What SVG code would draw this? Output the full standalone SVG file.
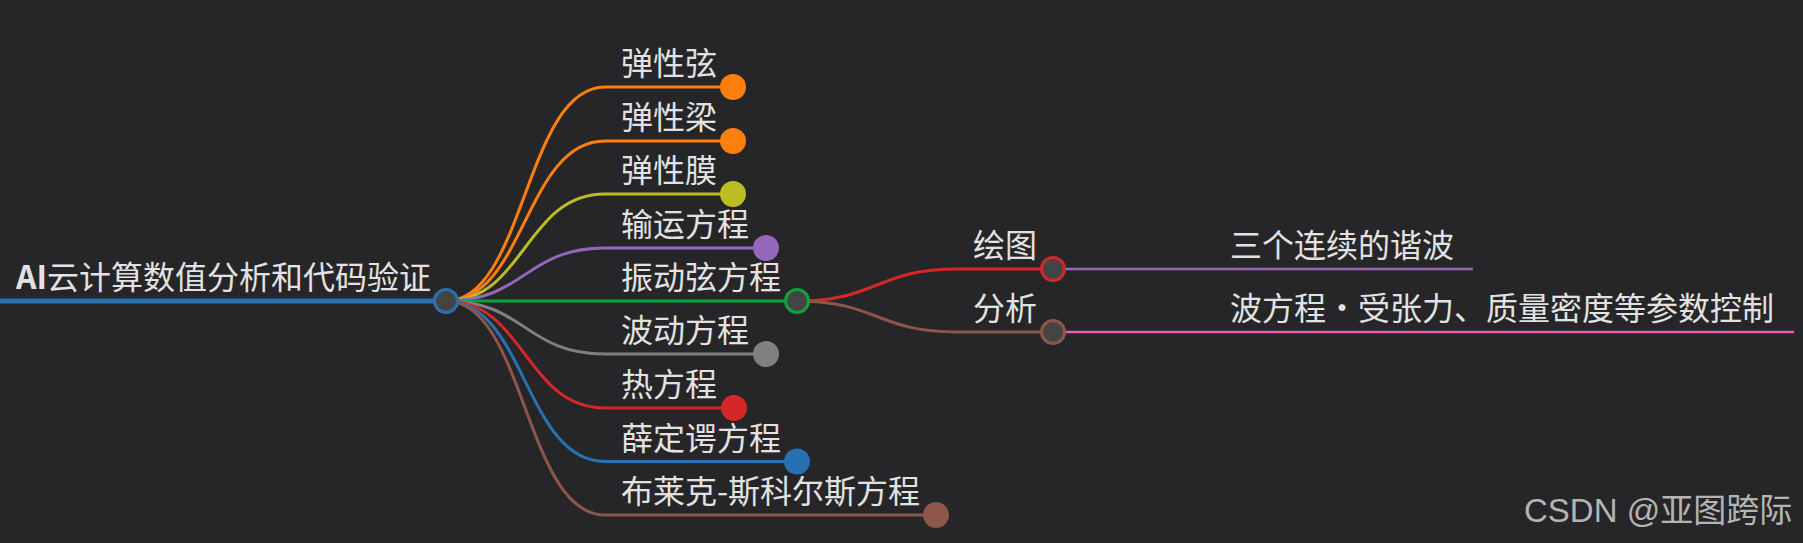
<svg xmlns="http://www.w3.org/2000/svg" width="1803" height="543" viewBox="0 0 1803 543">
<style>
text{font-family:"Noto Sans CJK SC","Noto Sans",sans-serif;font-size:32px;fill:#e2e2e2}
.l{fill:none;stroke-width:3;stroke-linecap:round}
.h{fill:#444;stroke-width:3}
.wm{font-family:"Liberation Sans","Noto Sans CJK SC",sans-serif;font-size:33px;fill:#b4b4b4}
</style>
<rect width="1803" height="543" fill="#262628"/>
<g id="connectors">
<line x1="0" y1="301" x2="440" y2="301" stroke="#2871b0" stroke-width="5"/>
<path class="l" stroke="#ff7f0e" d="M446 301C525 301 525 87 605 87H733"/>
<path class="l" stroke="#ff7f0e" d="M446 301C525 301 525 141 605 141H733"/>
<path class="l" stroke="#bcbd22" d="M446 301C525 301 525 194 605 194H733"/>
<path class="l" stroke="#9467bd" d="M446 301C525 301 525 248 605 248H766"/>
<path class="l" stroke="#0aa537" d="M446 301H797"/>
<path class="l" stroke="#808080" d="M446 301C525 301 525 354 605 354H766"/>
<path class="l" stroke="#d62728" d="M446 301C525 301 525 408 605 408H734"/>
<path class="l" stroke="#2871b0" d="M446 301C525 301 525 461.5 605 461.5H797"/>
<path class="l" stroke="#8c564b" d="M446 301C525 301 525 515 605 515H936"/>
<path class="l" stroke="#d62728" d="M797 301C877 301 877 269 957 269H1053"/>
<path class="l" stroke="#8c564b" d="M797 301C877 301 877 332 957 332H1053"/>
<path fill="none" stroke="#9467bd" stroke-width="2.5" d="M1053 269H1473"/>
<path fill="none" stroke="#e35fb5" stroke-width="2.5" d="M1053 332H1794"/>
</g>
<g id="root">
<text x="16" y="289"><tspan font-weight="bold">AI</tspan>云计算数值分析和代码验证</text>
<circle class="h" cx="446" cy="301" r="11.5" stroke="#2871b0"/>
</g>
<g id="n1"><text x="621" y="75">弹性弦</text><circle cx="733" cy="87" r="13" fill="#ff7f0e"/></g>
<g id="n2"><text x="621" y="129">弹性梁</text><circle cx="733" cy="141" r="13" fill="#ff7f0e"/></g>
<g id="n3"><text x="621" y="182">弹性膜</text><circle cx="733" cy="194" r="13" fill="#bcbd22"/></g>
<g id="n4"><text x="621" y="236">输运方程</text><circle cx="766" cy="248" r="13" fill="#9467bd"/></g>
<g id="n5"><text x="621" y="289">振动弦方程</text><circle class="h" cx="797" cy="301" r="11.5" stroke="#0aa537"/></g>
<g id="n6"><text x="621" y="342">波动方程</text><circle cx="766" cy="354" r="13" fill="#808080"/></g>
<g id="n7"><text x="621" y="396">热方程</text><circle cx="734" cy="408" r="13" fill="#d62728"/></g>
<g id="n8"><text x="621" y="449.5">薛定谔方程</text><circle cx="797" cy="461.5" r="13" fill="#2871b0"/></g>
<g id="n9"><text x="621" y="503">布莱克-斯科尔斯方程</text><circle cx="936" cy="515" r="13" fill="#8c564b"/></g>
<g id="n10"><text x="973" y="256.5">绘图</text><circle class="h" cx="1053" cy="269" r="11.5" stroke="#d62728"/></g>
<g id="n11"><text x="973" y="319.5">分析</text><circle class="h" cx="1053" cy="332" r="11.5" stroke="#8c564b"/></g>
<g id="n12"><text x="1230" y="256.5">三个连续的谐波</text></g>
<g id="n13"><text x="1230" y="319.5">波方程·受张力、质量密度等参数控制</text></g>
<text class="wm" x="1524" y="522">CSDN @<tspan font-family="Noto Sans CJK SC,sans-serif">亚图跨际</tspan></text>
</svg>
